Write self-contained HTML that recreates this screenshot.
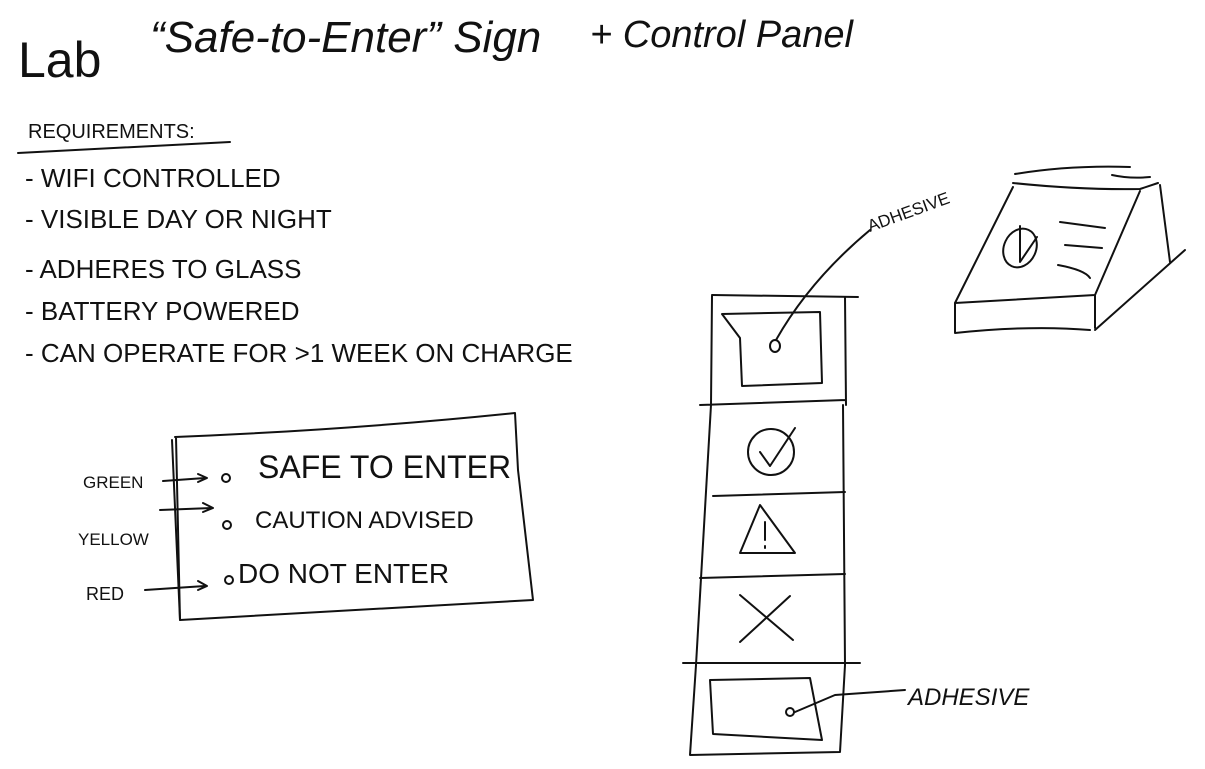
<!DOCTYPE html>
<html><head><meta charset="utf-8"><style>
html,body{margin:0;padding:0;background:#fff;width:1205px;height:769px;overflow:hidden}
svg{display:block}
text{font-family:"Liberation Sans",sans-serif;fill:#111}
</style></head><body>
<svg width="1205" height="769" viewBox="0 0 1205 769" xmlns="http://www.w3.org/2000/svg">
<g stroke="#111" stroke-width="2" fill="none" stroke-linecap="round" stroke-linejoin="round">
<path d="M18 153 L230 142"/>
<path d="M175 437 Q350 430 515 413 L518 470 L533 600 L180 620 L176 437"/>
<path d="M180 620 L172 440"/>
<path d="M163 481 L205 478 M198 474 L207 478 L198 482"/>
<path d="M160 510 L212 508 M203 503 L213 508 L203 512"/>
<path d="M145 590 L205 586 M198 581 L207 586 L198 590"/>
<circle cx="226" cy="478" r="4"/><circle cx="227" cy="525" r="4"/><circle cx="229" cy="580" r="4"/>
<path d="M712 295 L858 297"/>
<path d="M712 296 L711 405 M700 405 L845 400 M845 297 L846 405"/>
<path d="M711 405 L696 665 L690 755 L840 752 L845 665 L843 405"/>
<path d="M713 496 L845 492 M700 578 L845 574 M683 663 L860 663"/>
<path d="M722 314 L820 312 L822 383 L742 386 L740 338 Z"/>
<ellipse cx="775" cy="346" rx="5" ry="6"/>
<path d="M776 340 Q810 280 870 230"/>
<circle cx="771" cy="452" r="23"/>
<path d="M760 452 L770 466 L795 428"/>
<path d="M740 553 L760 505 L795 553 Z"/>
<path d="M765 522 L765 540 M765 546 L765 548"/>
<path d="M740 595 L793 640 M790 596 L740 642"/>
<path d="M710 680 L810 678 L822 740 L713 734 Z"/>
<circle cx="790" cy="712" r="4"/>
<path d="M795 712 L835 695 L905 690"/>
<!-- control panel -->
<path d="M1015 174 Q1070 165 1130 167 M1112 175 Q1130 179 1150 177"/>
<path d="M1013 183 Q1080 190 1140 189 L1158 183"/>
<path d="M1013 187 L955 303 L1095 295 L1140 191"/>
<path d="M1160 185 L1170 262"/>
<path d="M1185 250 L1095 330"/>
<path d="M955 303 L955 333 Q1030 325 1090 330"/>
<path d="M1095 295 L1095 328"/>
<ellipse cx="1020" cy="248" rx="16" ry="20" transform="rotate(25 1020 248)"/>
<path d="M1020 226 L1020 262 L1037 237"/>
<path d="M1060 222 L1105 228 M1065 245 L1102 248 M1058 265 Q1085 270 1090 278"/>
</g>
<text x="18" y="77" font-size="50">Lab</text>
<text x="150" y="52" font-size="44" font-style="italic">“Safe-to-Enter” Sign</text>
<text x="590" y="47" font-size="38" font-style="italic">+ Control Panel</text>
<text x="28" y="138" font-size="20">REQUIREMENTS:</text>
<text x="25" y="187" font-size="26">- WIFI CONTROLLED</text>
<text x="25" y="228" font-size="26">- VISIBLE DAY OR NIGHT</text>
<text x="25" y="278" font-size="26">- ADHERES TO GLASS</text>
<text x="25" y="320" font-size="26">- BATTERY POWERED</text>
<text x="25" y="362" font-size="26">- CAN OPERATE FOR &gt;1 WEEK ON CHARGE</text>
<text x="83" y="488" font-size="17">GREEN</text>
<text x="78" y="545" font-size="17">YELLOW</text>
<text x="86" y="600" font-size="18">RED</text>
<text x="258" y="478" font-size="32">SAFE TO ENTER</text>
<text x="255" y="528" font-size="24">CAUTION ADVISED</text>
<text x="238" y="583" font-size="28">DO NOT ENTER</text>
<text x="870" y="232" font-size="17" transform="rotate(-20 870 232)">ADHESIVE</text>
<text x="908" y="705" font-size="24" font-style="italic">ADHESIVE</text>
</svg>
</body></html>
